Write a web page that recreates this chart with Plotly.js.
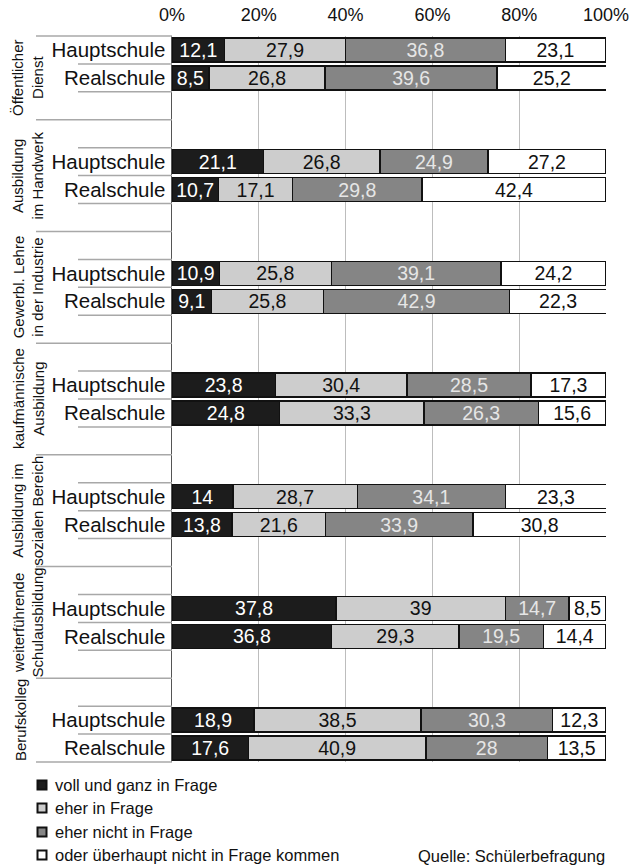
<!DOCTYPE html>
<html>
<head>
<meta charset="utf-8">
<script src="https://cdn.plot.ly/plotly-3.0.1.min.js"></script>
<style>html,body{margin:0;padding:0;background:#fff;}#chart{width:633px;height:867px;}</style>
</head>
<body>
<div id="chart"></div>
<script>
// ---- data ----
const groups = ["Öffentlicher<br>Dienst", "Ausbildung<br>im Handwerk", "Gewerbl. Lehre<br>in der Industrie",
  "kaufmännische<br>Ausbildung", "Ausbildung im<br>sozialen Bereich", "weiterführende<br>Schulausbildung", "Berufskolleg"];
const schools = ["Hauptschule", "Realschule"];
const seriesNames = ["voll und ganz in Frage", "eher in Frage", "eher nicht in Frage", "oder überhaupt nicht in Frage kommen"];
const xTickVals = [0, 20, 40, 60, 80, 100];
const xTickText = ["0%", "20%", "40%", "60%", "80%", "100%"];
const sourceText = "Quelle: Schülerbefragung";

const vollH = [12.1, 21.1, 10.9, 23.8, 14, 37.8, 18.9];
const vollR = [8.5, 10.7, 9.1, 24.8, 13.8, 36.8, 17.6];
const eherH = [27.9, 26.8, 25.8, 30.4, 28.7, 39, 38.5];
const eherR = [26.8, 17.1, 25.8, 33.3, 21.6, 29.3, 40.9];
const eherNichtH = [36.8, 24.9, 39.1, 28.5, 34.1, 14.7, 30.3];
const eherNichtR = [39.6, 29.8, 42.9, 26.3, 33.9, 19.5, 28];
const garNichtH = [23.1, 27.2, 24.2, 17.3, 23.3, 8.5, 12.3];
const garNichtR = [25.2, 42.4, 22.3, 15.6, 30.8, 14.4, 13.5];

// ---- styles ----
const fills = ["#1c1c1c", "#cdcdcd", "#858585", "#ffffff"];
const textColors = ["#ffffff", "#111111", "#e6e6e6", "#111111"];
const FONT = "'Liberation Sans', Arial, Helvetica, sans-serif";

// slot layout: each group uses slots 4g (Hauptschule) and 4g+1 (Realschule)
const nSlots = 4 * groups.length - 2;
const slotH = g => 4 * g + 0.5;
const slotR = g => 4 * g + 1.5;

const seriesH = [vollH, eherH, eherNichtH, garNichtH];
const seriesR = [vollR, eherR, eherNichtR, garNichtR];

const fmt = v => String(v).replace('.', ',');

const traces = seriesNames.map((name, s) => {
  const x = [], y = [], text = [];
  groups.forEach((g, gi) => {
    x.push(seriesH[s][gi]); y.push(slotH(gi)); text.push(fmt(seriesH[s][gi]));
    x.push(seriesR[s][gi]); y.push(slotR(gi)); text.push(fmt(seriesR[s][gi]));
  });
  return {
    type: "bar", orientation: "h", name, x, y, text,
    texttemplate: "%{text}", textposition: "inside", insidetextanchor: "middle",
    textangle: 0, constraintext: "none",
    textfont: {family: FONT, size: 19.5, color: textColors[s]},
    marker: {color: fills[s], line: {color: "#111", width: 1.5}},
    width: 0.86, hoverinfo: "skip", showlegend: false
  };
});

// y tick labels
const yTickVals = [], yTickText = [];
groups.forEach((g, gi) => {
  yTickVals.push(slotH(gi)); yTickText.push(schools[0]);
  yTickVals.push(slotR(gi)); yTickText.push(schools[1]);
});

// geometry helpers (plot area 172..606 x 36..762)
const plotLeftPx = 172, plotWidthPx = 434, plotBottomPx = 762, plotHeightPx = 726;
const pxToPaperX = px => (px - plotLeftPx) / plotWidthPx;
const pxToPaperY = py => (plotBottomPx - py) / plotHeightPx;
const slotToPaperY = s => 1 - s / nSlots;

const shapes = [];
function hline(slot, xpx) {
  shapes.push({type: "line", xref: "paper", yref: "paper",
    x0: pxToPaperX(xpx), x1: 0, y0: slotToPaperY(slot), y1: slotToPaperY(slot),
    line: {color: "#a8a8a8", width: 1.5}});
}
const longLines = [0, nSlots];
groups.forEach((g, gi) => { if (gi > 0) longLines.push(4 * gi - 1); });
longLines.forEach(s => hline(s, 36));
groups.forEach((g, gi) => {
  [4 * gi, 4 * gi + 1, 4 * gi + 2].forEach(s => { if (!longLines.includes(s)) hline(s, 78); });
});

// group labels
const annotations = groups.map((g, gi) => {
  const top = gi === 0 ? 0 : 4 * gi - 1;
  const bot = gi === groups.length - 1 ? nSlots : 4 * gi + 3;
  const nLines = g.split("<br>").length;
  return {text: g, textangle: -90, xref: "paper", yref: "paper",
    x: pxToPaperX(nLines === 1 ? 20 : 28), y: slotToPaperY((top + bot) / 2),
    xanchor: "center", yanchor: "middle", showarrow: false,
    font: {family: FONT, size: 15, color: "#111"}};
});

// legend (custom, square keys)
const legendRowsPx = [785, 808, 832, 855];
seriesNames.forEach((name, s) => {
  const cy = legendRowsPx[s];
  shapes.push({type: "rect", xref: "paper", yref: "paper",
    x0: pxToPaperX(37.5), x1: pxToPaperX(46.5), y0: pxToPaperY(cy - 4.5), y1: pxToPaperY(cy + 4.5),
    fillcolor: fills[s], line: {color: "#111", width: 2}});
  annotations.push({text: name, xref: "paper", yref: "paper", x: pxToPaperX(53), y: pxToPaperY(cy),
    xanchor: "left", yanchor: "middle", showarrow: false, font: {family: FONT, size: 16.5, color: "#111"}});
});

annotations.push({text: sourceText, xref: "paper", yref: "paper", x: pxToPaperX(607), y: pxToPaperY(856),
  xanchor: "right", yanchor: "middle", showarrow: false, font: {family: FONT, size: 16.5, color: "#111"}});

const layout = {
  width: 633, height: 867,
  margin: {l: 172, r: 27, t: 36, b: 105},
  paper_bgcolor: "#fff", plot_bgcolor: "#fff",
  font: {family: FONT, color: "#111"},
  barmode: "stack",
  separators: ",.",
  uniformtext: {mode: "show", minsize: 19.5},
  xaxis: {side: "top", range: [0, 100], tickvals: xTickVals, ticktext: xTickText,
    tickfont: {family: FONT, size: 18, color: "#111"},
    showgrid: true, gridcolor: "#bdbdbd", gridwidth: 1, zeroline: false, showline: false,
    ticks: "outside", ticklen: 7, tickcolor: "rgba(0,0,0,0)", fixedrange: true},
  yaxis: {range: [nSlots, 0], tickvals: yTickVals, ticktext: yTickText,
    tickfont: {family: FONT, size: 20.5, color: "#111"},
    showgrid: false, zeroline: false, showline: true, linecolor: "#555", linewidth: 1.5,
    ticks: "outside", ticklen: 1, tickcolor: "rgba(0,0,0,0)", fixedrange: true},
  showlegend: false,
  shapes, annotations
};

Plotly.newPlot("chart", traces, layout, {displayModeBar: false, staticPlot: true});
</script>
</body>
</html>
